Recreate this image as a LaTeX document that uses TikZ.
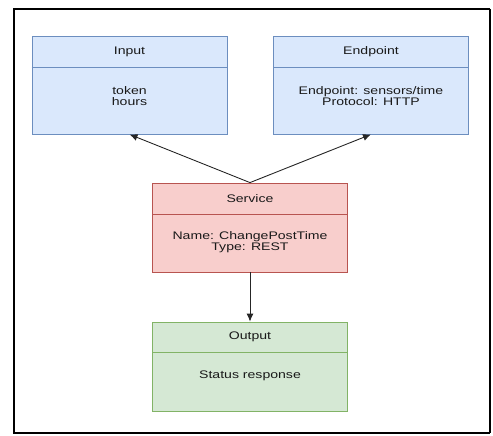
\documentclass[tikz,border=0pt]{standalone}
\usepackage{fontspec}
\setmainfont[FakeStretch=1.28]{Liberation Sans}
\usetikzlibrary{arrows.meta,positioning}

\definecolor{inblue}{HTML}{DAE8FC}
\definecolor{inblueline}{HTML}{6C8EBF}
\definecolor{svcred}{HTML}{F8CECC}
\definecolor{svcredline}{HTML}{B85450}
\definecolor{outgreen}{HTML}{D5E8D4}
\definecolor{outgreenline}{HTML}{82B366}

\begin{document}
\begin{tikzpicture}[x=1pt,y=-1pt,
    every node/.style={font=\fontsize{11}{11}\selectfont, text=black!90, align=center},
    box/.style={minimum width=195pt, minimum height=98pt, inner sep=0pt, line width=0.8pt},
    conn/.style={-{Latex[length=8pt,width=7pt]}, line width=0.9pt, black!85}]
    \useasboundingbox (0,0) rectangle (493,436);
    \draw[line width=2.6pt] (490,9) -- (14,9) -- (14,433) -- (490,433);
    \draw[line width=1.3pt] (490,9) -- (490,433);

    \node[box, fill=inblue, draw=inblueline] (input) at (129.5,85) {};
    \draw[inblueline, line width=0.8pt] ([yshift=-32pt]input.north west) -- ([yshift=-32pt]input.north east);
    \node (inputhead) at ([yshift=-16pt]input.north) {Input};
    \node (inputbody) at ([yshift=-60pt]input.north) {token\\hours};

    \node[box, fill=inblue, draw=inblueline] (endpoint) at (371,85) {};
    \draw[inblueline, line width=0.8pt] ([yshift=-32pt]endpoint.north west) -- ([yshift=-32pt]endpoint.north east);
    \node (endpointhead) at ([yshift=-16pt]endpoint.north) {Endpoint};
    \node (endpointbody) at ([yshift=-60pt]endpoint.north) {Endpoint: sensors/time\\Protocol: HTTP};

    \node[box, minimum height=89pt, fill=svcred, draw=svcredline] (service) at (250,227.5) {};
    \draw[svcredline, line width=0.8pt] ([yshift=-32pt]service.north west) -- ([yshift=-32pt]service.north east);
    \node (servicehead) at ([yshift=-16pt]service.north) {Service};
    \node (servicebody) at ([yshift=-60pt]service.north) {Name: ChangePostTime\\Type: REST};

    \node[box, minimum height=89pt, fill=outgreen, draw=outgreenline] (output) at (250,366.5) {};
    \draw[outgreenline, line width=0.8pt] ([yshift=-31pt]output.north west) -- ([yshift=-31pt]output.north east);
    \node (outputhead) at ([yshift=-15.5pt]output.north) {Output};
    \node (outputbody) at ([yshift=-54pt]output.north) {Status response};

    \draw[conn] (service.north) -- (input.south);
    \draw[conn] (service.north) -- (endpoint.south);
    \draw[conn] (service.south) -- (output.north);
\end{tikzpicture}
\end{document}
